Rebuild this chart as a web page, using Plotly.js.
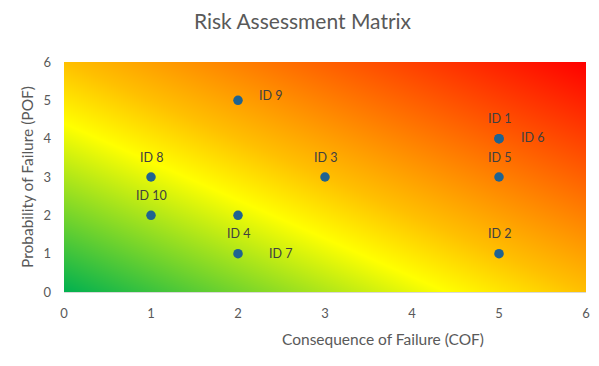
<!DOCTYPE html>
<html>
<head>
<meta charset="utf-8">
<script src="https://cdn.plot.ly/plotly-3.0.1.min.js"></script>
<style>html,body{margin:0;padding:0;background:#fff;}#chart{width:599px;height:366px;}</style>
</head>
<body>
<div id="chart"></div>
<script>
// Data
const ids = ["ID 1","ID 2","ID 3","ID 4","ID 5","ID 6","ID 7","ID 8","ID 9","ID 10"];
const cof = [5, 5, 3, 2, 5, 5, 2, 1, 2, 1];
const pof = [4, 1, 3, 2, 3, 4, 1, 3, 5, 2];
const labelPos = ["above","above","above","below","above","right","right2","above","rightUp","above"];
const tickVals = [0, 1, 2, 3, 4, 5, 6];

// Background gradient (corner levels of the risk field)
const bgX = [0, 6];
const bgY = [0, 6];
const bgZ = [[0, 1], [1, 2]];

const fontFam = 'Lato, "Open Sans", sans-serif';
const grey = '#595959';

const traces = [
  {
    type: 'heatmap', x: bgX, y: bgY, z: bgZ, zsmooth: 'best', zmin: 0, zmax: 2,
    showscale: false, hoverinfo: 'skip',
    colorscale: [[0, '#00b050'], [0.367, '#ffff00'], [0.5, '#ffc000'], [1, '#ff0000']]
  },
  {
    type: 'scatter', mode: 'markers', x: cof, y: pof, text: ids,
    marker: {color: '#1f6391', size: 9.5}, hoverinfo: 'text'
  }
];

const shiftMap = {
  above: {xshift: 0, yshift: 20, xanchor: 'center'},
  below: {xshift: 0, yshift: -18, xanchor: 'center'},
  right: {xshift: 20, yshift: 1, xanchor: 'left'},
  rightUp: {xshift: 19, yshift: 5, xanchor: 'left'},
  right2: {xshift: 29, yshift: 0, xanchor: 'left'}
};

const annotations = ids.map((t, i) => {
  const s = shiftMap[labelPos[i]];
  return {
    x: cof[i], y: pof[i], xref: 'x', yref: 'y', text: t, showarrow: false,
    xshift: s.xshift, yshift: s.yshift, xanchor: s.xanchor, yanchor: 'middle',
    font: {family: fontFam, size: 12.5, color: '#404040'}
  };
});
annotations.push({
  text: 'Consequence of Failure (COF)', xref: 'paper', yref: 'paper',
  x: (383 - 64) / (586 - 64), y: -(339 - 292) / (292 - 62),
  xanchor: 'center', yanchor: 'middle', showarrow: false,
  font: {family: fontFam, size: 15.5, color: grey}
});

const layout = {
  width: 599, height: 366,
  margin: {l: 64, r: 13, t: 62, b: 74},
  paper_bgcolor: '#ffffff', plot_bgcolor: '#ffffff',
  showlegend: false,
  title: {
    text: 'Risk Assessment Matrix', x: 0.505, xanchor: 'center',
    y: 1 - 22 / 366, yanchor: 'middle', yref: 'container',
    font: {family: fontFam, size: 21, color: grey}
  },
  xaxis: {
    range: [0, 6], tickvals: tickVals, showgrid: false, zeroline: false,
    showline: true, linecolor: '#d9d9d9', linewidth: 1,
    ticks: '', ticklabelstandoff: 9,
    tickfont: {family: fontFam, size: 13, color: grey}, fixedrange: true
  },
  yaxis: {
    range: [0, 6], tickvals: tickVals, showgrid: false, zeroline: false,
    ticks: '', ticklabelstandoff: 12,
    tickfont: {family: fontFam, size: 13, color: grey}, fixedrange: true,
    title: {text: 'Probability of Failure (POF)', standoff: 6,
            font: {family: fontFam, size: 15.5, color: grey}}
  },
  annotations: annotations
};

Plotly.newPlot('chart', traces, layout, {displayModeBar: false, staticPlot: true});
</script>
</body>
</html>
